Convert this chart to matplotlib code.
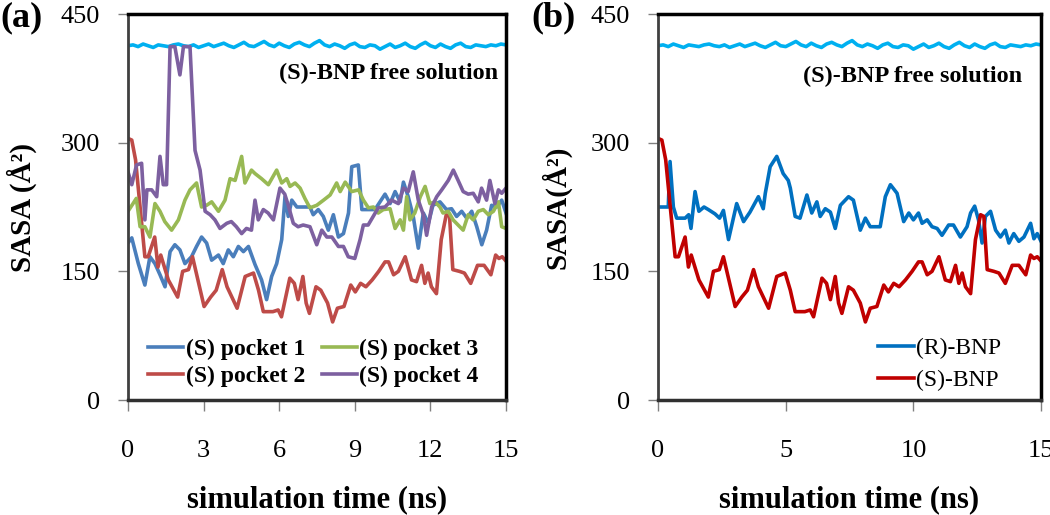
import numpy as np
import matplotlib
matplotlib.use("Agg")
from matplotlib import pyplot as plt

plt.rcParams['font.family'] = ['Liberation Serif', 'DejaVu Serif']

# (S)-BNP free solution, sampled evenly over 0-15 ns
free_v = [413, 414, 412, 415, 413, 411, 414, 413, 412, 414, 415, 413, 412, 414, 411, 413,
          415, 412, 414, 416, 413, 411, 414, 417, 413, 412, 415, 418, 414, 412, 416, 413,
          411, 415, 417, 414, 412, 416, 419, 414, 412, 415, 413, 410, 414, 416, 412, 411,
          414, 413, 409, 412, 415, 411, 413, 416, 412, 410, 414, 417, 413, 411, 415, 412,
          410, 414, 416, 412, 411, 414, 413, 412, 414, 413, 415, 414]
free_t = np.linspace(0, 15, len(free_v))

# (S) pocket 1
p1_t = [0, 0.15, 0.41, 0.67, 0.87, 1.07, 1.27, 1.47, 1.67, 1.86, 2.06, 2.26, 2.52, 2.72, 2.92,
        3.12, 3.32, 3.59, 3.78, 3.98, 4.18, 4.38, 4.58, 4.78, 5.04, 5.3, 5.5, 5.7, 5.9, 6.1,
        6.23, 6.36, 6.5, 6.7, 6.95, 7.22, 7.35, 7.55, 7.75, 7.95, 8.15, 8.35, 8.55, 8.75, 8.88,
        9.14, 9.28, 9.54, 9.8, 10.0, 10.2, 10.4, 10.6, 10.8, 10.93, 11.12, 11.32, 11.52, 11.72,
        11.92, 12.1, 12.38, 12.64, 12.84, 13.04, 13.24, 13.44, 13.64, 13.84, 14.04, 14.23, 14.43,
        14.63, 14.83, 15]
p1_v = [183, 189, 159, 134, 167, 159, 146, 132, 173, 181, 175, 159, 167, 179, 190,
        183, 163, 169, 159, 175, 167, 179, 173, 179, 158, 140, 117, 144, 159, 187,
        237, 214, 233, 225, 225, 225, 216, 222, 214, 198, 216, 190, 194, 218, 272,
        274, 222, 222, 222, 231, 240, 229, 243, 231, 254, 237, 214, 177, 218,
        206, 227, 231, 222, 223, 214, 220, 212, 220, 202, 181, 198, 227,
        225, 233, 218]

# (S) pocket 2 == (S)-BNP
p2_t = [0, 0.15, 0.3, 0.67, 0.8, 1.06, 1.19, 1.3, 1.6, 1.97, 2.17, 2.4, 2.56, 3.02, 3.28, 3.5,
        3.74, 3.93, 4.33, 4.65, 4.98, 5.18, 5.37, 5.75, 5.96, 6.09, 6.42, 6.6, 6.75, 6.94, 7.07,
        7.2, 7.46, 7.65, 7.92, 8.12, 8.31, 8.57, 8.84, 9.02, 9.23, 9.44, 9.69, 9.95, 10.2, 10.34,
        10.54, 10.73, 11.0, 11.25, 11.45, 11.65, 11.78, 11.91, 12.04, 12.24, 12.43, 12.63, 12.76,
        12.89, 13.15, 13.35, 13.6, 13.87, 14.13, 14.4, 14.59, 14.72, 14.85, 15]
p2_v = [305, 303, 280, 167, 167, 190, 155, 169, 140, 120, 150, 152, 167, 109, 120, 128,
        152, 132, 107, 144, 148, 128, 103, 103, 105, 97, 142, 136, 117, 144, 113,
        101, 132, 128, 113, 91, 107, 109, 134, 126, 136, 132, 140, 150, 161, 161,
        146, 150, 167, 140, 138, 157, 136, 148, 132, 124, 187, 216, 214,
        152, 150, 148, 136, 157, 157, 146, 169, 165, 167, 162]

# (S) pocket 3
p3_t = [0, 0.2, 0.33, 0.48, 0.67, 0.87, 1.07, 1.27, 1.46, 1.73, 2.0, 2.26, 2.46, 2.72, 2.92,
        3.12, 3.32, 3.59, 3.85, 4.05, 4.25, 4.51, 4.64, 4.9, 5.04, 5.3, 5.57, 5.9, 6.1, 6.3,
        6.43, 6.63, 6.83, 7.02, 7.22, 7.49, 7.76, 8.02, 8.28, 8.42, 8.62, 8.88, 9.15, 9.34,
        9.54, 9.74, 9.93, 10.13, 10.4, 10.6, 10.8, 10.93, 11.06, 11.19, 11.38, 11.6, 11.79,
        11.98, 12.18, 12.38, 12.5, 12.71, 12.9, 13.1, 13.3, 13.5, 13.7, 13.9, 14.1, 14.3,
        14.5, 14.7, 14.83, 15]
p3_v = [220, 229, 235, 202, 202, 190, 229, 220, 208, 198, 210, 233, 245, 253, 225,
        227, 231, 220, 233, 258, 256, 284, 253, 268, 264, 258, 251, 268, 253, 258,
        249, 253, 247, 235, 224, 227, 233, 239, 253, 243, 254, 243, 245, 233,
        224, 225, 218, 222, 223, 200, 210, 198, 237, 210, 218, 237, 249,
        229, 231, 225, 218, 220, 210, 204, 198, 216, 210, 220, 222, 216,
        220, 231, 202, 200]

# (S) pocket 4
p4_t = [0, 0.15, 0.34, 0.54, 0.67, 0.75, 0.94, 1.14, 1.27, 1.4, 1.53, 1.67, 1.86, 2.06, 2.2,
        2.46, 2.66, 2.86, 3.06, 3.26, 3.45, 3.65, 3.92, 4.1, 4.3, 4.51, 4.7, 4.9, 5.04, 5.17,
        5.37, 5.56, 5.77, 6.03, 6.22, 6.35, 6.56, 6.75, 6.95, 7.22, 7.49, 7.69, 7.89, 8.09,
        8.35, 8.55, 8.74, 9.0, 9.21, 9.34, 9.53, 9.73, 9.93, 10.2, 10.46, 10.73, 10.93, 11.12,
        11.32, 11.52, 11.72, 11.85, 12.05, 12.25, 12.45, 12.71, 12.91, 13.1, 13.3, 13.5, 13.7,
        13.9, 14.03, 14.23, 14.36, 14.56, 14.7, 14.83, 15]
p4_v = [266, 251, 274, 276, 210, 245, 245, 237, 284, 251, 251, 412, 412, 379, 412,
        412, 291, 268, 220, 216, 210, 200, 206, 208, 202, 194, 200, 198, 233, 210,
        222, 218, 210, 247, 240, 228, 206, 202, 204, 202, 181, 198, 190, 190,
        179, 179, 167, 165, 187, 204, 204, 214, 224, 225, 233, 229, 247, 243,
        266, 233, 216, 192, 225, 237, 245, 256, 268, 256, 243, 240, 241,
        231, 247, 233, 256, 229, 245, 241, 247]

# (R)-BNP
r_t = [0, 0.4, 0.47, 0.6, 0.73, 1.06, 1.2, 1.29, 1.45, 1.6, 1.8, 1.97, 2.23, 2.41, 2.56, 2.76,
       3.08, 3.35, 3.6, 3.93, 4.12, 4.2, 4.39, 4.65, 4.9, 5.1, 5.18, 5.37, 5.56, 5.83, 6.02,
       6.22, 6.35, 6.55, 6.75, 6.94, 7.14, 7.46, 7.65, 7.92, 8.12, 8.31, 8.7, 8.9, 9.1, 9.36,
       9.62, 9.82, 10.0, 10.2, 10.34, 10.54, 10.73, 10.93, 11.12, 11.38, 11.57, 11.84, 12.1,
       12.24, 12.4, 12.55, 12.69, 12.82, 13.02, 13.22, 13.41, 13.6, 13.74, 13.93, 14.13, 14.33,
       14.59, 14.72, 14.85, 15]
r_v = [225, 225, 278, 225, 212, 212, 216, 200, 243, 220, 225, 222, 217, 212, 221, 187,
       229, 208, 219, 237, 223, 241, 272, 284, 264, 256, 247, 214, 212, 239, 218,
       231, 214, 223, 219, 200, 227, 237, 233, 198, 212, 202, 202, 237, 251, 241,
       208, 218, 210, 218, 206, 210, 202, 200, 192, 204, 204, 190, 202,
       218, 226, 210, 183, 214, 220, 198, 190, 198, 183, 194, 185, 190,
       206, 188, 194, 185]

ticks_a = [0, 3, 6, 9, 12, 15]
ticks_b = [0, 5, 10, 15]
yticks = [0, 150, 300, 450]


def style_axes(ax, xticks):
    ax.set_xlim(0, 15)
    ax.set_ylim(0, 450)
    ax.set_xticks(xticks)
    ax.set_yticks(yticks)
    for s in ['top', 'right']:
        ax.spines[s].set_linewidth(2.5)
        ax.spines[s].set_color('black')
    ax.spines['left'].set_linewidth(2)
    ax.spines['left'].set_color('#404040')
    ax.spines['bottom'].set_linewidth(2.5)
    ax.spines['bottom'].set_color('#303030')
    ax.tick_params(axis='y', direction='out', length=7, width=1, color='#808080',
                   labelsize=19, pad=13)
    ax.tick_params(axis='x', direction='out', length=8, width=1, color='#808080',
                   labelsize=19, pad=21)


fig = plt.figure(figsize=(10.5, 5.15), dpi=100)
ax1 = fig.add_axes([0.1219, 0.2233, 0.36, 0.7495])
ax2 = fig.add_axes([0.6267, 0.2233, 0.3648, 0.7495])

lw = 2.6
ax1.plot(free_t, free_v, color='#00b0f0', lw=lw)
ax1.plot(p1_t, p1_v, color='#4a7ebb', lw=lw, label='(S) pocket 1')
ax1.plot(p2_t, p2_v, color='#be4b48', lw=lw, label='(S) pocket 2')
ax1.plot(p3_t, p3_v, color='#98b954', lw=lw, label='(S) pocket 3')
ax1.plot(p4_t, p4_v, color='#7d60a0', lw=lw, label='(S) pocket 4')
style_axes(ax1, ticks_a)
ax1.text(14.7, 381, '(S)-BNP free solution', ha='right', va='center',
         fontsize=17.5, fontweight='bold')
ax1.legend(ncol=2, loc='lower left', bbox_to_anchor=(0.034, 0.015), frameon=False,
           prop={'size': 17, 'weight': 'bold'}, handlelength=1.5, handletextpad=0.1,
           columnspacing=0.7, labelspacing=0.22, borderpad=0.3, borderaxespad=0)
ax1.set_ylabel('SASA (Å²)', fontsize=21, fontweight='bold')
ax1.yaxis.set_label_coords(-0.241, 0.5)
ax1.set_xlabel('simulation time (ns)', fontsize=22, fontweight='bold')
ax1.xaxis.set_label_coords(0.5, -0.22)
fig.text(0.0, 0.965, '(a)', fontsize=26, fontweight='bold', va='center')

ax2.plot(free_t, free_v, color='#00b0f0', lw=lw)
ax2.plot(r_t, r_v, color='#0070c0', lw=lw, label='(R)-BNP')
ax2.plot(p2_t, p2_v, color='#c00000', lw=lw, label='(S)-BNP')
style_axes(ax2, ticks_b)
ax2.text(14.27, 377, '(S)-BNP free solution', ha='right', va='center',
         fontsize=17.5, fontweight='bold')
ax2.legend(loc='lower left', bbox_to_anchor=(0.556, 0.005), frameon=False,
           prop={'size': 17}, handlelength=1.5, handletextpad=0.1,
           labelspacing=0.45, borderpad=0.3, borderaxespad=0)
ax2.set_ylabel('SASA(Å²)', fontsize=21, fontweight='bold')
ax2.yaxis.set_label_coords(-0.225, 0.5)
ax2.set_xlabel('simulation time (ns)', fontsize=22, fontweight='bold')
ax2.xaxis.set_label_coords(0.5, -0.22)
fig.text(0.506, 0.965, '(b)', fontsize=26, fontweight='bold', va='center')

fig.savefig('out.png', dpi=100)
